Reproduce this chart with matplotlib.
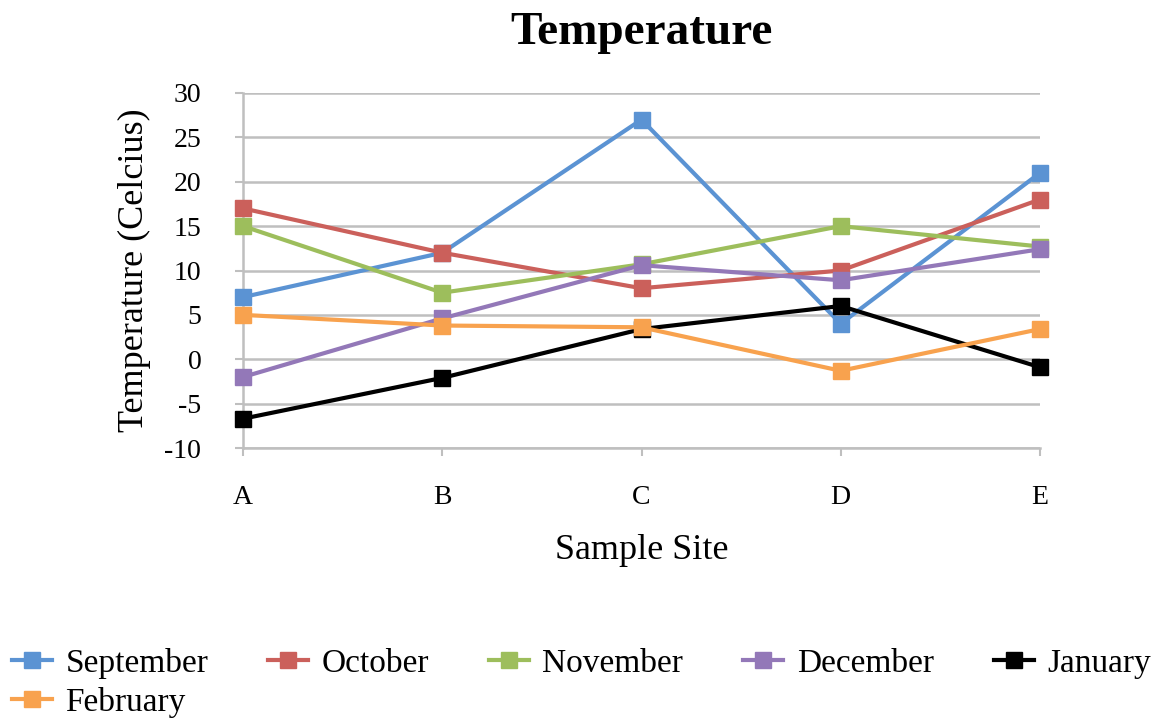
import matplotlib
matplotlib.use('Agg')
from matplotlib import pyplot as plt

sites = ['A', 'B', 'C', 'D', 'E']
september = [7, 12, 27, 4, 21]
october = [17, 12, 8, 10, 18]
november = [15, 7.5, 10.7, 15, 12.7]
december = [-2, 4.6, 10.6, 8.9, 12.4]
january = [-6.7, -2.1, 3.4, 6, -0.9]
february = [5, 3.8, 3.6, -1.3, 3.4]

series = [
    ('September', september, '#5B93D3'),
    ('October', october, '#CB605B'),
    ('November', november, '#9DBE5C'),
    ('December', december, '#9378B8'),
    ('January', january, '#000000'),
    ('February', february, '#F8A24E'),
]


def main():
    plt.rcParams['font.family'] = ['Liberation Serif', 'DejaVu Serif']
    plt.rcParams['axes.unicode_minus'] = False

    fig = plt.figure(figsize=(11.53, 7.19), dpi=100)
    ax = fig.add_axes([243 / 1153, 1 - 448 / 719, (1040 - 243) / 1153, (448 - 93) / 719])

    x = list(range(len(sites)))
    lines = {}
    for name, vals, col in series:
        ln, = ax.plot(x, vals, color=col, lw=3, marker='s', markersize=11,
                      label=name, clip_on=False, zorder=3)
        lines[name] = ln

    ax.set_xlim(0, len(sites) - 1)
    ax.set_ylim(-10, 30)
    ax.set_yticks(range(-10, 31, 5))
    ax.set_xticks(x)
    ax.set_xticklabels(sites)

    ax.grid(axis='y', color='#BFBFBF', lw=1.8)
    ax.set_axisbelow(True)
    for s in ['top', 'right']:
        ax.spines[s].set_visible(False)
    for s in ['left', 'bottom']:
        ax.spines[s].set_color('#BFBFBF')
        ax.spines[s].set_linewidth(1.8)
    ax.tick_params(axis='both', colors='#BFBFBF', width=1.5, length=6, labelsize=20,
                   labelcolor='black')
    ax.tick_params(axis='x', pad=21)
    ax.tick_params(axis='y', pad=24)

    ax.set_title('Temperature', fontsize=34, fontweight='bold', pad=35)
    ax.set_xlabel('Sample Site', fontsize=26, labelpad=17)
    ax.set_ylabel('Temperature (Celcius)', fontsize=26, labelpad=10)

    # column-major fill, so put February second to get it under September
    order = ['September', 'February', 'October', 'November', 'December', 'January']
    fig.legend([lines[n] for n in order], order, loc='lower left',
               bbox_to_anchor=(-0.004, -0.022), ncol=5, frameon=False,
               fontsize=24, handlelength=1.2, columnspacing=1.8, handletextpad=0.4,
               labelspacing=0.25, borderaxespad=0.1)

    fig.savefig('out.png', dpi=100)


if __name__ == "__main__":
    main()
